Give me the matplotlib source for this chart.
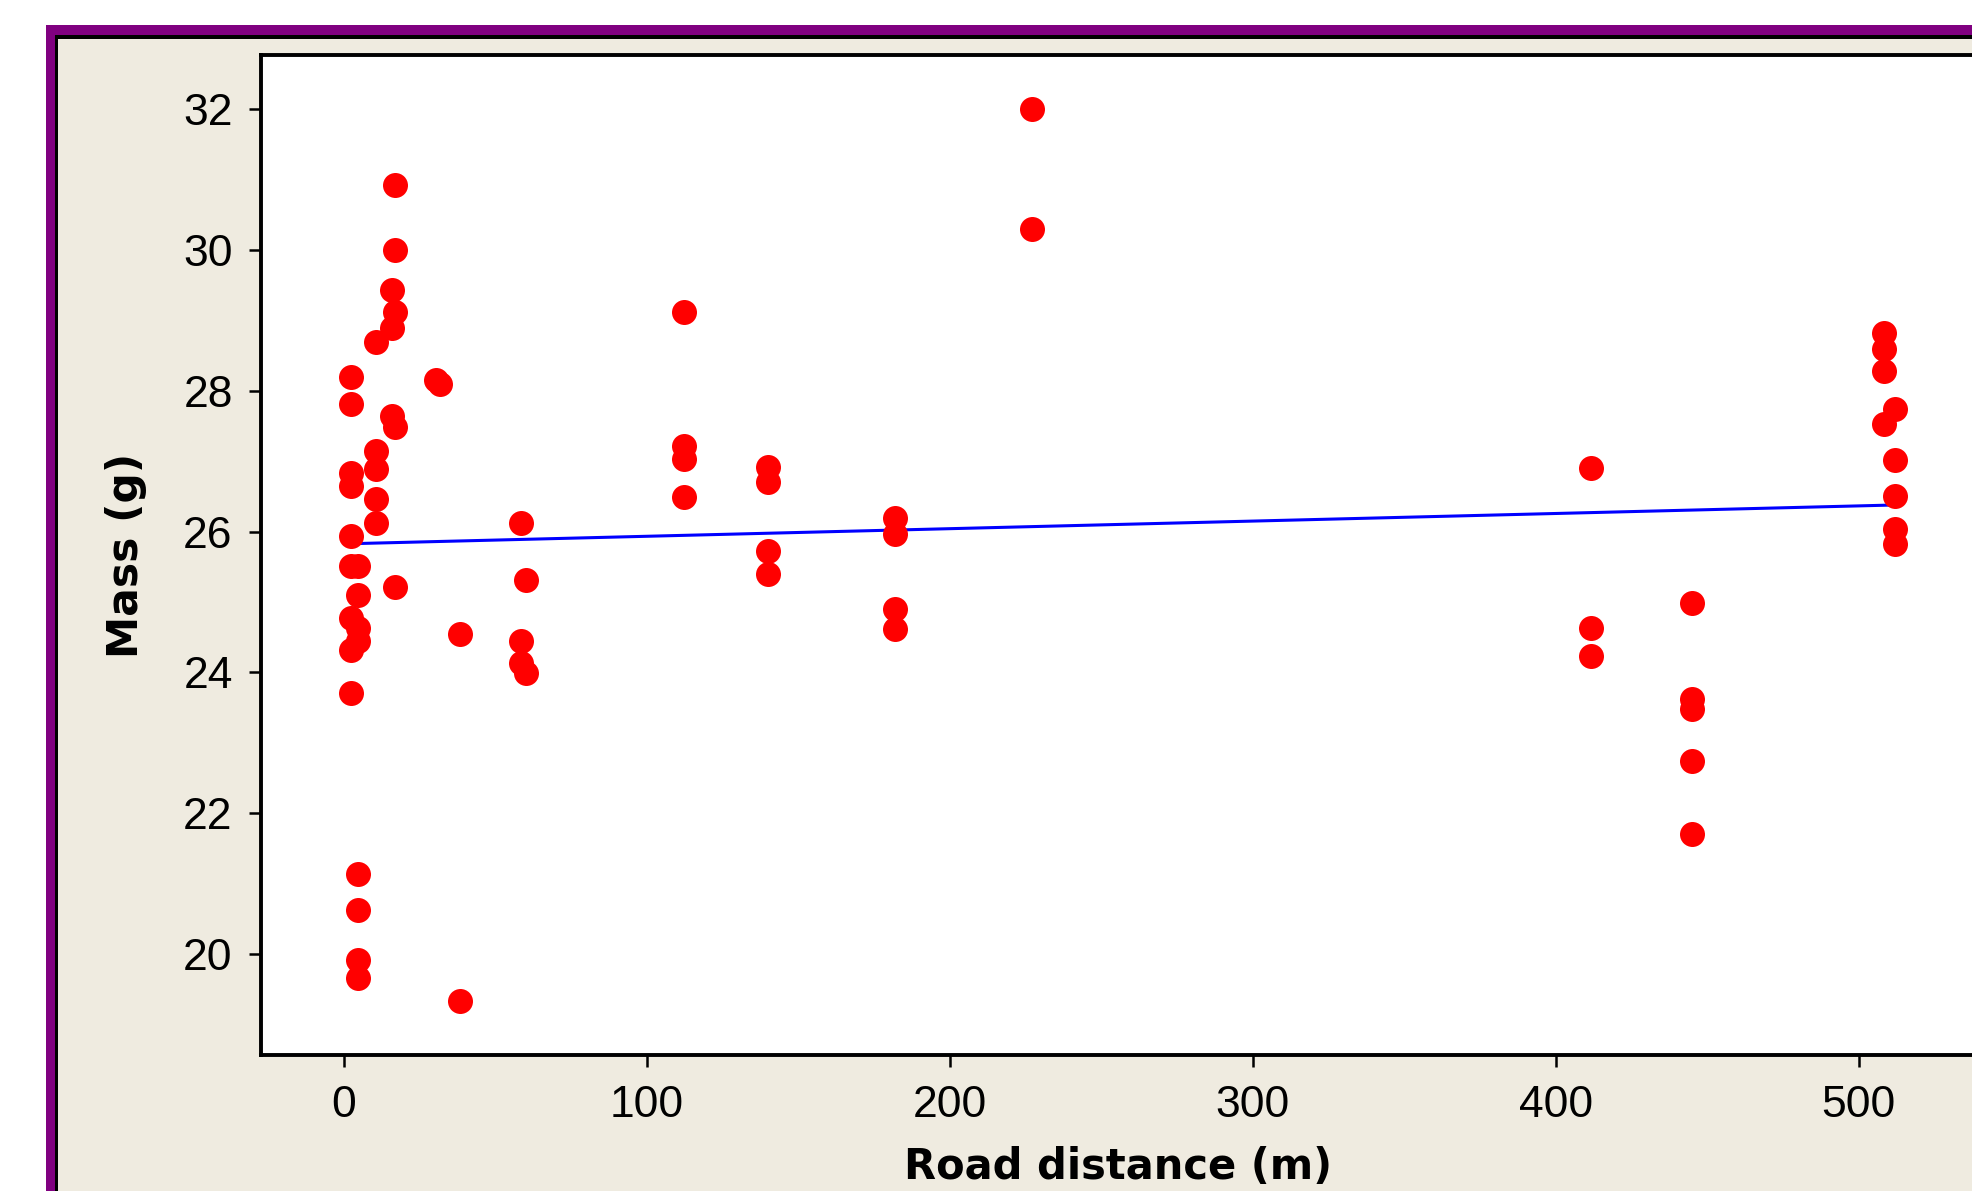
import matplotlib.pyplot as plt
from matplotlib.patches import Rectangle

# Road distance (m) and body mass (g)
distance = [2.5, 2.5, 2.5, 2.5, 2.5, 2.5, 2.5, 2.5, 2.5,
            4.7, 4.7, 4.7, 4.7, 4.7, 4.7, 4.7, 4.7,
            10.7, 10.7, 10.7, 10.7, 10.7,
            15.8, 15.8, 15.8,
            16.8, 16.8, 16.8, 16.8, 16.8,
            30.5, 31.8,
            38.3, 38.3,
            58.6, 58.6, 58.6,
            60.0, 60.0,
            112.4, 112.4, 112.4, 112.4,
            140.0, 140.0, 140.0, 140.0,
            181.8, 181.8, 181.8, 181.8,
            227.2, 227.2,
            411.5, 411.5, 411.5,
            445.0, 445.0, 445.0, 445.0, 445.0,
            508.4, 508.4, 508.4, 508.4,
            511.9, 511.9, 511.9, 511.9, 511.9]
mass = [28.20, 27.82, 26.84, 26.65, 25.94, 25.52, 24.77, 24.32, 23.71,
        25.52, 25.10, 24.63, 24.45, 21.14, 20.63, 19.91, 19.66,
        28.70, 27.14, 26.89, 26.46, 26.13,
        29.44, 28.90, 27.65,
        30.92, 30.00, 29.12, 27.49, 25.21,
        28.15, 28.10,
        24.54, 19.33,
        26.13, 24.45, 24.14,
        25.31, 23.99,
        29.12, 27.22, 27.03, 26.50,
        26.92, 26.70, 25.72, 25.40,
        26.19, 25.97, 24.90, 24.62,
        32.00, 30.30,
        26.91, 24.63, 24.23,
        24.99, 23.63, 23.48, 22.74, 21.70,
        28.83, 28.60, 28.29, 27.53,
        27.75, 27.02, 26.51, 26.04, 25.83]

# fitted line ends as drawn
fit_x = [2.5, 511.9]
fit_y = [25.83, 26.38]

x_ticks = [0, 100, 200, 300, 400, 500]
y_ticks = [20, 22, 24, 26, 28, 30, 32]

plt.rcParams['font.family'] = ['Liberation Sans', 'DejaVu Sans']

W, H = 1972, 1191
fig = plt.figure(figsize=(W / 100, H / 100), dpi=100)
fig.patch.set_facecolor('white')


def fx(px):
    return px / W


def fy(py):
    return 1 - py / H


# window frame: purple border, thin black line, beige panel
for left, top, col, z in [(46, 24.5, '#800080', -3),
                          (54.5, 34.8, 'black', -2),
                          (58, 38.8, '#efebe0', -1)]:
    fig.add_artist(Rectangle((fx(left), -0.5), 2, fy(top) + 0.5,
                             transform=fig.transFigure, facecolor=col,
                             edgecolor='none', zorder=z))

ax_l, ax_r, ax_t, ax_b = 261, 1976, 55.3, 1055.3
ax = fig.add_axes([fx(ax_l), fy(ax_b), (ax_r - ax_l) / W, (ax_b - ax_t) / H])
ax.set_facecolor('white')

ax.plot(fit_x, fit_y, color='blue', lw=2.2, zorder=2)
ax.plot(distance, mass, 'o', color='red', markersize=18,
        markeredgewidth=0, zorder=3)

ax.set_xlim(-27.3, 538.7)
ax.set_ylim(18.56, 32.77)
ax.set_xticks(x_ticks)
ax.set_yticks(y_ticks)

for s in ax.spines.values():
    s.set_linewidth(2.8)
ax.tick_params(direction='out', length=8.4, width=1.8, labelsize=32)
ax.tick_params(axis='y', pad=12)
ax.tick_params(axis='x', pad=13)

ax.set_xlabel('Road distance (m)', fontsize=30, fontweight='bold',
              family='DejaVu Sans')
ax.set_ylabel('Mass (g)', fontsize=30.5, fontweight='bold',
              family='DejaVu Sans')
ax.xaxis.set_label_coords(0.5, -0.091)
ax.yaxis.set_label_coords(-0.0666, 0.5)

fig.savefig('out.png', dpi=100)
